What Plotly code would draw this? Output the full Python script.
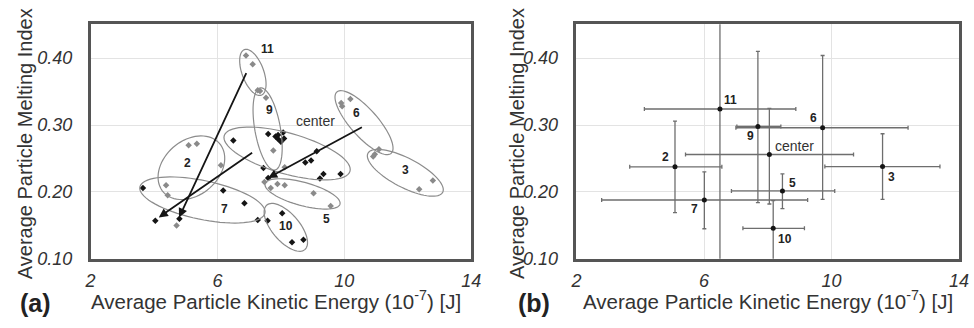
import numpy as np
import plotly.graph_objects as go

# ---------------- Panel (a) data ----------------
black_x = [3.65, 4.04, 4.80, 6.18, 6.85, 6.50, 7.27, 7.58, 8.04, 8.35, 8.71, 7.45,
           7.60, 7.83, 7.91, 8.07, 8.00, 8.10, 7.91,
           8.77, 8.95, 9.13, 9.23, 9.34, 9.88, 7.60]
black_y = [0.206, 0.157, 0.160, 0.202, 0.183, 0.277, 0.158, 0.157, 0.168, 0.125, 0.1285, 0.236,
           0.2865, 0.283, 0.285, 0.289, 0.275, 0.280, 0.279,
           0.244, 0.247, 0.261, 0.220, 0.227, 0.227, 0.221]
gray_x = [6.90, 7.11, 7.27, 7.34, 7.53, 7.76, 8.12,
          5.09, 5.35, 6.11, 4.38, 4.43, 4.71,
          7.48, 7.68, 7.89, 8.12, 9.03, 9.57,
          9.90, 9.93, 10.19, 10.96, 10.91, 11.09, 12.36, 12.79]
gray_y = [0.404, 0.391, 0.352, 0.351, 0.341, 0.262, 0.237,
          0.270, 0.272, 0.240, 0.210, 0.195, 0.150,
          0.215, 0.206, 0.212, 0.210, 0.198, 0.179,
          0.333, 0.328, 0.339, 0.2565, 0.253, 0.264, 0.204, 0.217]

# cluster outlines: centre (data units), semi-axes (px), tilt (deg, clockwise on screen)
ell_cx = [7.116, 7.581, 8.195, 5.178, 5.526, 8.155, 8.682, 10.62, 11.922]
ell_cy = [0.3787, 0.2942, 0.2575, 0.2362, 0.188, 0.1471, 0.1971, 0.3036, 0.2286]
ell_a = [25, 43, 66.5, 38, 65, 30, 39.5, 42, 43]
ell_b = [11, 13, 21, 28, 20, 14, 12, 14, 15]
ell_ang = [70, 80, 16, -42, 12, 50, 15.5, 49, 28]

a_labels = ["11", "9", "center", "6", "2", "7", "3", "10", "5"]
a_lab_x = [7.58, 7.63, 9.10, 10.39, 5.04, 6.21, 11.92, 8.17, 9.44]
a_lab_y = [0.413, 0.322, 0.306, 0.318, 0.244, 0.174, 0.233, 0.149, 0.159]

arrow_tail_x = [6.93, 7.14, 10.60]
arrow_tail_y = [0.380, 0.260, 0.298]
arrow_tip_x = [4.79, 4.15, 7.60]
arrow_tip_y = [0.162, 0.162, 0.221]

# ---------------- Panel (b) data ----------------
b_names = ["11", "2", "7", "9", "center", "6", "3", "5", "10"]
b_x = [6.50, 5.09, 6.01, 7.69, 8.05, 9.72, 11.60, 8.46, 8.17]
b_y = [0.324, 0.2375, 0.188, 0.298, 0.256, 0.296, 0.238, 0.2016, 0.1457]
b_xlo = [4.13, 3.67, 2.79, 7.03, 5.42, 7.00, 9.79, 6.86, 7.22]
b_xhi = [8.88, 6.56, 9.25, 8.41, 10.69, 12.40, 13.40, 10.10, 9.15]
b_ylo = [0.05, 0.169, 0.145, 0.184, 0.182, 0.189, 0.189, 0.175, 0.059]
b_yhi = [0.60, 0.306, 0.230, 0.410, 0.325, 0.404, 0.287, 0.227, 0.187]
b_lab_x = [6.84, 4.80, 5.70, 7.45, 8.84, 9.44, 11.88, 8.76, 8.53]
b_lab_y = [0.337, 0.252, 0.175, 0.283, 0.269, 0.311, 0.223, 0.214, 0.130]

x_ticks = [2, 6, 10, 14]
y_ticks = [0.10, 0.20, 0.30, 0.40]
y_tick_text = ["0.10", "0.20", "0.30", "0.40"]

# ---------------- layout geometry ----------------
W, H = 974, 328
XR = [2, 14]
YR = [0.10, 0.4507]
dom_a = [86 / W, 473 / W]
dom_b = [580 / W, 969 / W]
dom_y = [(H - 267) / H, (H - 25) / H]

fig = go.Figure()

GRAYPT = "#8a8a8a"
BLACK = "#151515"
FONT = "Liberation Sans, Arial"

fig.add_trace(go.Scatter(x=gray_x, y=gray_y, mode="markers", xaxis="x", yaxis="y",
                         marker=dict(symbol="diamond", size=5, color=GRAYPT), showlegend=False))
fig.add_trace(go.Scatter(x=black_x, y=black_y, mode="markers", xaxis="x", yaxis="y",
                         marker=dict(symbol="diamond", size=5, color=BLACK), showlegend=False))

# error bars
plus_x = [hi - x for hi, x in zip(b_xhi, b_x)]
minus_x = [x - lo for lo, x in zip(b_xlo, b_x)]
plus_y = [hi - y for hi, y in zip(b_yhi, b_y)]
minus_y = [y - lo for lo, y in zip(b_ylo, b_y)]
fig.add_trace(go.Scatter(
    x=b_x, y=b_y, mode="markers", xaxis="x2", yaxis="y2",
    marker=dict(size=5, color=BLACK),
    error_x=dict(type="data", symmetric=False, array=plus_x, arrayminus=minus_x,
                 color="#6e6e6e", thickness=1.3, width=2),
    error_y=dict(type="data", symmetric=False, array=plus_y, arrayminus=minus_y,
                 color="#6e6e6e", thickness=1.3, width=2),
    showlegend=False))

# ellipses
sx = (dom_a[1] - dom_a[0]) * W / (XR[1] - XR[0])
sy = (dom_y[1] - dom_y[0]) * H / (YR[1] - YR[0])
shapes = []
t = np.linspace(0, 2 * np.pi, 73)
for cx, cy, a, b, ang in zip(ell_cx, ell_cy, ell_a, ell_b, ell_ang):
    th = np.radians(ang)
    dx = a * np.cos(t) * np.cos(th) - b * np.sin(t) * np.sin(th)
    dy = a * np.cos(t) * np.sin(th) + b * np.sin(t) * np.cos(th)
    px = cx + dx / sx
    py = cy - dy / sy
    path = "M " + " L ".join(f"{u:.4f},{v:.5f}" for u, v in zip(px, py)) + " Z"
    shapes.append(dict(type="path", path=path, xref="x", yref="y",
                       line=dict(color="#8c8c8c", width=1.2), layer="above"))

annotations = []
for tx, ty, hx, hy in zip(arrow_tail_x, arrow_tail_y, arrow_tip_x, arrow_tip_y):
    annotations.append(dict(x=hx, y=hy, ax=tx, ay=ty, xref="x", yref="y", axref="x", ayref="y",
                            showarrow=True, arrowhead=2, arrowsize=1.0, arrowwidth=1.8,
                            arrowcolor=BLACK, text="", standoff=0))

def lab_font(lab):
    if lab == "center":
        return dict(family=FONT, size=14, color="#333")
    return dict(family=FONT, size=12, color="#222", weight="bold")

for lab, lx, ly in zip(a_labels, a_lab_x, a_lab_y):
    annotations.append(dict(x=lx, y=ly, xref="x", yref="y", text=lab, showarrow=False,
                            xanchor="center", yanchor="middle", font=lab_font(lab)))
for lab, lx, ly in zip(b_names, b_lab_x, b_lab_y):
    annotations.append(dict(x=lx, y=ly, xref="x2", yref="y2", text=lab, showarrow=False,
                            xanchor="center", yanchor="middle", font=lab_font(lab)))

title_font = dict(family=FONT, size=20, color="#333")
ytitle = "Average Particle Melting Index"
xtitle = "Average Particle Kinetic Energy (10<sup>-7</sup>) [J]"
for xc in [20, 520]:
    annotations.append(dict(x=xc / W, y=(H - 148) / H, xref="paper", yref="paper", text=ytitle,
                            textangle=-90, showarrow=False, xanchor="center", yanchor="middle",
                            font=title_font))
for xc in [275, 775]:
    annotations.append(dict(x=xc / W, y=(H - 309) / H, xref="paper", yref="paper", text=xtitle,
                            showarrow=False, xanchor="center", yanchor="middle",
                            font=dict(family=FONT, size=20.5, color="#333")))
for xc, lab in [(30, "(a)"), (537, "(b)")]:
    annotations.append(dict(x=xc / W, y=(H - 313) / H, xref="paper", yref="paper", text=lab,
                            showarrow=False, xanchor="center", yanchor="middle",
                            font=dict(family=FONT, size=25, color="#222", weight="bold")))

tickf = dict(family=FONT, size=18, color="#333", style="italic")
axis_common = dict(range=XR, tickvals=x_ticks, ticktext=[str(v) for v in x_ticks],
                   showgrid=True, gridcolor="#e3e3e3", gridwidth=1, zeroline=False,
                   showline=True, mirror=True, linecolor="#555", linewidth=2.5,
                   ticks="", tickfont=tickf, ticklabelstandoff=4)
yaxis_common = dict(range=YR, tickvals=y_ticks, ticktext=y_tick_text,
                    showgrid=True, gridcolor="#e3e3e3", gridwidth=1, zeroline=False,
                    showline=True, mirror=True, linecolor="#555", linewidth=2.5,
                    ticks="", tickfont=tickf, ticklabelstandoff=12)

fig.update_layout(
    width=W, height=H, margin=dict(l=0, r=0, t=0, b=0),
    paper_bgcolor="white", plot_bgcolor="white",
    xaxis=dict(domain=dom_a, anchor="y", **axis_common),
    yaxis=dict(domain=dom_y, anchor="x", **yaxis_common),
    xaxis2=dict(domain=dom_b, anchor="y2", **axis_common),
    yaxis2=dict(domain=dom_y, anchor="x2", **yaxis_common),
    shapes=shapes, annotations=annotations,
)

fig.write_html("out.html")
